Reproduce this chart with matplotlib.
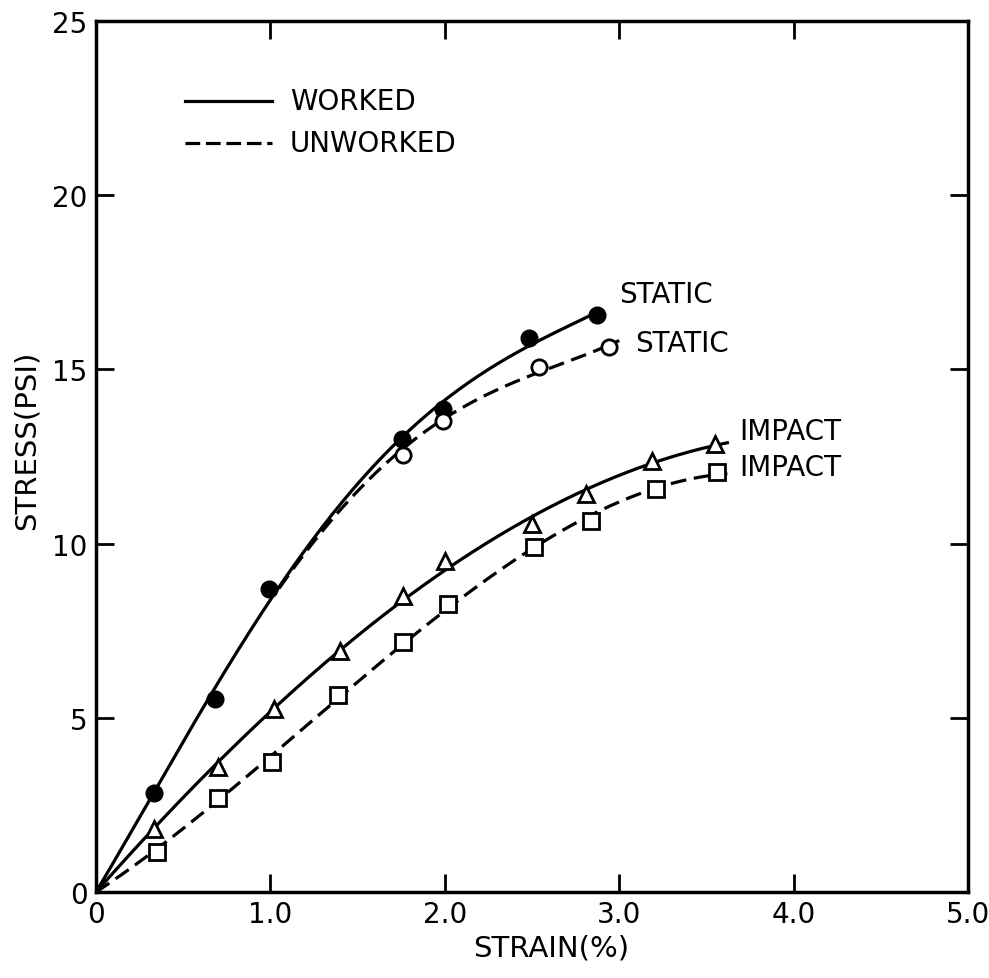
import numpy as np
import matplotlib.pyplot as plt

# worked / unworked, static / impact  (strain in %, stress in psi)
ws_strain = [0.33, 0.68, 0.99, 1.755, 1.99, 2.48, 2.87]
ws_stress = [2.84, 5.55, 8.70, 13.0, 13.86, 15.9, 16.56]

us_strain = [1.76, 1.99, 2.54, 2.94]
us_stress = [12.54, 13.52, 15.07, 15.64]

wi_strain = [0.33, 0.70, 1.02, 1.40, 1.76, 2.00, 2.50, 2.81, 3.19, 3.55]
wi_stress = [1.80, 3.58, 5.25, 6.92, 8.50, 9.50, 10.56, 11.42, 12.37, 12.86]

ui_strain = [0.35, 0.70, 1.01, 1.39, 1.76, 2.02, 2.51, 2.84, 3.21, 3.56]
ui_stress = [1.15, 2.70, 3.73, 5.65, 7.18, 8.27, 9.90, 10.65, 11.57, 12.05]

xticks = [0, 1, 2, 3, 4, 5]
xticklabels = ["0", "1.0", "2.0", "3.0", "4.0", "5.0"]
yticks = [0, 5, 10, 15, 20, 25]


def fit_curve(x, y, x0, x1, deg=3):
    # least squares polynomial forced through the origin
    x = np.asarray(x)
    y = np.asarray(y)
    A = np.column_stack([x**k for k in range(1, deg + 1)])
    c = np.linalg.lstsq(A, y, rcond=None)[0]
    xs = np.linspace(x0, x1, 200)
    ys = sum(c[k-1]*xs**k for k in range(1, deg + 1))
    return xs, ys


plt.rcParams['font.family'] = ['DejaVu Sans']
fig = plt.figure(figsize=(9.89, 9.79), dpi=100)
ax = fig.add_axes([0.0971, 0.0878, 0.8817, 0.8897])

lw = 2.3
dash = (5.0, 2.4)

xs, ys = fit_curve(ws_strain, ws_stress, 0, 2.87, deg=4)
ax.plot(xs, ys, 'k-', lw=lw)
xs, ys = fit_curve(ws_strain[:3] + us_strain, ws_stress[:3] + us_stress,
                   1.05, 3.0, deg=4)
ax.plot(xs, ys, 'k', lw=lw, dashes=dash)
xs, ys = fit_curve(wi_strain, wi_stress, 0, 3.62)
ax.plot(xs, ys, 'k-', lw=lw)
xs, ys = fit_curve(ui_strain, ui_stress, 0, 3.62)
ax.plot(xs, ys, 'k', lw=lw, dashes=dash)

ax.plot(ws_strain, ws_stress, 'o', color='k', ms=12)
ax.plot(us_strain, us_stress, 'o', mfc='white', mec='k', mew=2, ms=11)
ax.plot(wi_strain, wi_stress, '^', mfc='white', mec='k', mew=2, ms=12)
ax.plot(ui_strain, ui_stress, 's', mfc='white', mec='k', mew=2, ms=11)

# key
ax.plot([0.51, 1.01], [22.7, 22.7], 'k-', lw=lw)
ax.plot([0.51, 1.01], [21.5, 21.5], 'k', lw=lw, dashes=(4.6, 1.8))
ax.text(1.11, 22.7, "WORKED", fontsize=20, va='center')
ax.text(1.11, 21.5, "UNWORKED", fontsize=20, va='center')

ax.text(3.0, 17.16, "STATIC", fontsize=20, va='center')
ax.text(3.09, 15.76, "STATIC", fontsize=20, va='center')
ax.text(3.69, 13.23, "IMPACT", fontsize=20, va='center')
ax.text(3.69, 12.2, "IMPACT", fontsize=20, va='center')

ax.set_xlim(0, 5)
ax.set_ylim(0, 25)
ax.set_xticks(xticks)
ax.set_xticklabels(xticklabels)
ax.set_yticks(yticks)
ax.tick_params(direction='in', length=13, width=2, labelsize=20, pad=6,
               top=True, right=True)
for s in ax.spines.values():
    s.set_linewidth(2.5)

fig.text(0.557, 0.031, "STRAIN(%)", fontsize=21, ha='center', va='center')
fig.text(0.027, 0.55, "STRESS(PSI)", fontsize=21, ha='center', va='center',
         rotation=90)

fig.savefig("out.png", dpi=100)
